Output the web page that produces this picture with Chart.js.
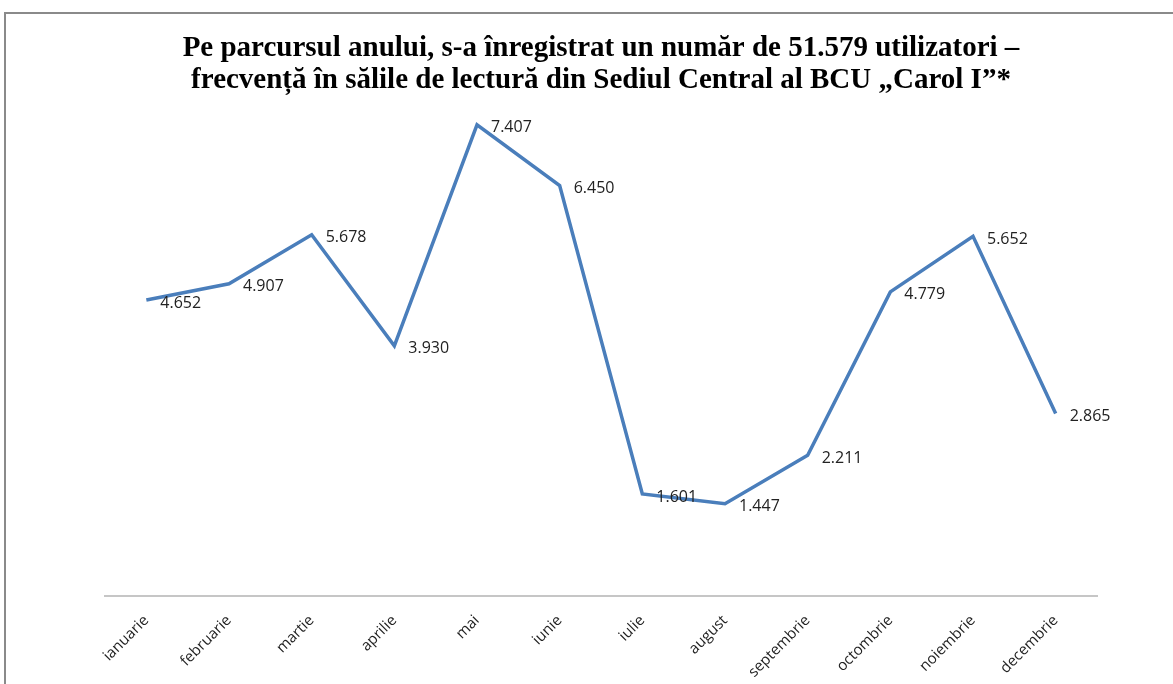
<!DOCTYPE html>
<html>
<head>
<meta charset="utf-8">
<script src="https://cdn.jsdelivr.net/npm/chart.js@4"></script>
<style>
  html, body { margin: 0; padding: 0; background: #fff; overflow: hidden; }
  #frame {
    position: absolute; left: 4px; top: 12px; width: 1300px; height: 800px;
    border-left: 2px solid #8a8a8a; border-top: 2px solid #8a8a8a;
  }
  #wrap { position: absolute; left: 0; top: 0; width: 1173px; height: 700px; }
</style>
</head>
<body>
<div id="frame"></div>
<div id="wrap"><canvas id="chartFrecventa" width="1173" height="700"></canvas></div>
<script>
const luni = ['ianuarie', 'februarie', 'martie', 'aprilie', 'mai', 'iunie',
  'iulie', 'august', 'septembrie', 'octombrie', 'noiembrie', 'decembrie']
const utilizatori = [4652, 4907, 5678, 3930, 7407, 6450, 1601, 1447, 2211, 4779, 5652, 2865]
const titlu = [
  'Pe parcursul anului, s-a înregistrat un număr de 51.579 utilizatori –',
  'frecvență în sălile de lectură din Sediul Central al BCU „Carol I”*'
]

const albastru = '#4a7ebb'

// numar cu punct la mii: 4652 -> 4.652
const fmt = v => {
  const s = String(Math.round(v))
  return s.replace(/\B(?=(\d{3})+(?!\d))/g, '.')
}

// ── etichete de date la dreapta punctelor ──
const eticheteDate = {
  id: 'eticheteDate',
  afterDatasetsDraw(chart) {
    const ctx = chart.ctx
    const meta = chart.getDatasetMeta(0)
    ctx.save()
    ctx.font = '16px "Open Sans"'
    ctx.fillStyle = '#222'
    ctx.textAlign = 'left'
    ctx.textBaseline = 'middle'
    meta.data.forEach((pt, i) => {
      ctx.fillText(fmt(chart.data.datasets[0].data[i]), pt.x + 14, pt.y + 3)
    })
    ctx.restore()
  }
}

new Chart(document.getElementById('chartFrecventa'), {
  type: 'line',
  data: {
    labels: luni,
    datasets: [{
      label: 'Utilizatori',
      data: utilizatori,
      borderColor: albastru,
      borderWidth: 3.5,
      pointRadius: 0,
      tension: 0,
      fill: false
    }]
  },
  options: {
    responsive: false,
    animation: false,
    devicePixelRatio: 1,
    layout: { padding: { left: 105, right: 76, top: 0, bottom: 3 } },
    scales: {
      x: {
        offset: true,
        grid: { display: false, drawTicks: false },
        border: { display: true, color: '#c6c6c6', width: 2 },
        ticks: {
          color: '#222',
          font: { family: 'Open Sans', size: 15 },
          maxRotation: 45,
          minRotation: 45,
          padding: 16,
          autoSkip: false
        }
      },
      y: {
        display: false,
        min: 0,
        max: 7800
      }
    },
    plugins: {
      legend: { display: false },
      tooltip: { enabled: false },
      title: {
        display: true,
        text: titlu,
        color: '#000',
        font: { family: 'Liberation Serif', size: 29, weight: 'bold', lineHeight: 1.1 },
        padding: { top: 33, bottom: 3 }
      }
    }
  },
  plugins: [eticheteDate]
})
</script>
</body>
</html>
